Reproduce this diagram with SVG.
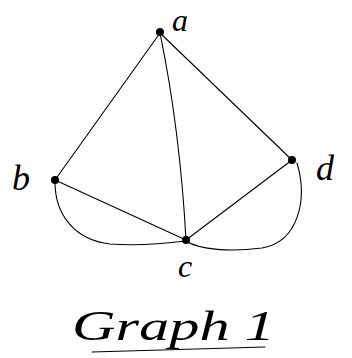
<svg xmlns="http://www.w3.org/2000/svg" width="352" height="358" viewBox="0 0 352 358">
<style>
.e{fill:none;stroke:#000;stroke-width:1.1;stroke-linecap:round}
.n{fill:#000}
.t{font-family:"Liberation Serif","DejaVu Serif",serif;font-style:italic;fill:#000}
</style>
<rect width="352" height="358" fill="#fff"/>
<g id="edges">
<path class="e" d="M160,33 L55,180"/>
<path class="e" d="M160,33 Q180,130 186,240"/>
<path class="e" d="M160,33 L292,160"/>
<path class="e" d="M55,180 L186,240"/>
<path class="e" d="M186,240 L292,160"/>
<path class="e" d="M55,182 C55,215 75,240 110,244 C140,246 170,243 186,241"/>
<path class="e" d="M186,241 C200,250 230,252 262,248 C298,242 308,200 297,163"/>
</g>
<g id="node-a"><circle class="n" cx="160" cy="32" r="4"/><text class="t" x="172" y="31" font-size="32">a</text></g>
<g id="node-b"><circle class="n" cx="55" cy="180" r="4"/><text class="t" x="12" y="190" font-size="36">b</text></g>
<g id="node-d"><circle class="n" cx="292" cy="160" r="4"/><text class="t" x="316" y="180" font-size="36">d</text></g>
<g id="node-c"><circle class="n" cx="186" cy="240" r="4"/><text class="t" x="178" y="277" font-size="32">c</text></g>
<g id="title">
<text class="t" x="72" y="340" font-size="42" textLength="203" lengthAdjust="spacingAndGlyphs">Graph 1</text>
<path class="e" d="M92,352 L265,347"/>
</g>
</svg>
